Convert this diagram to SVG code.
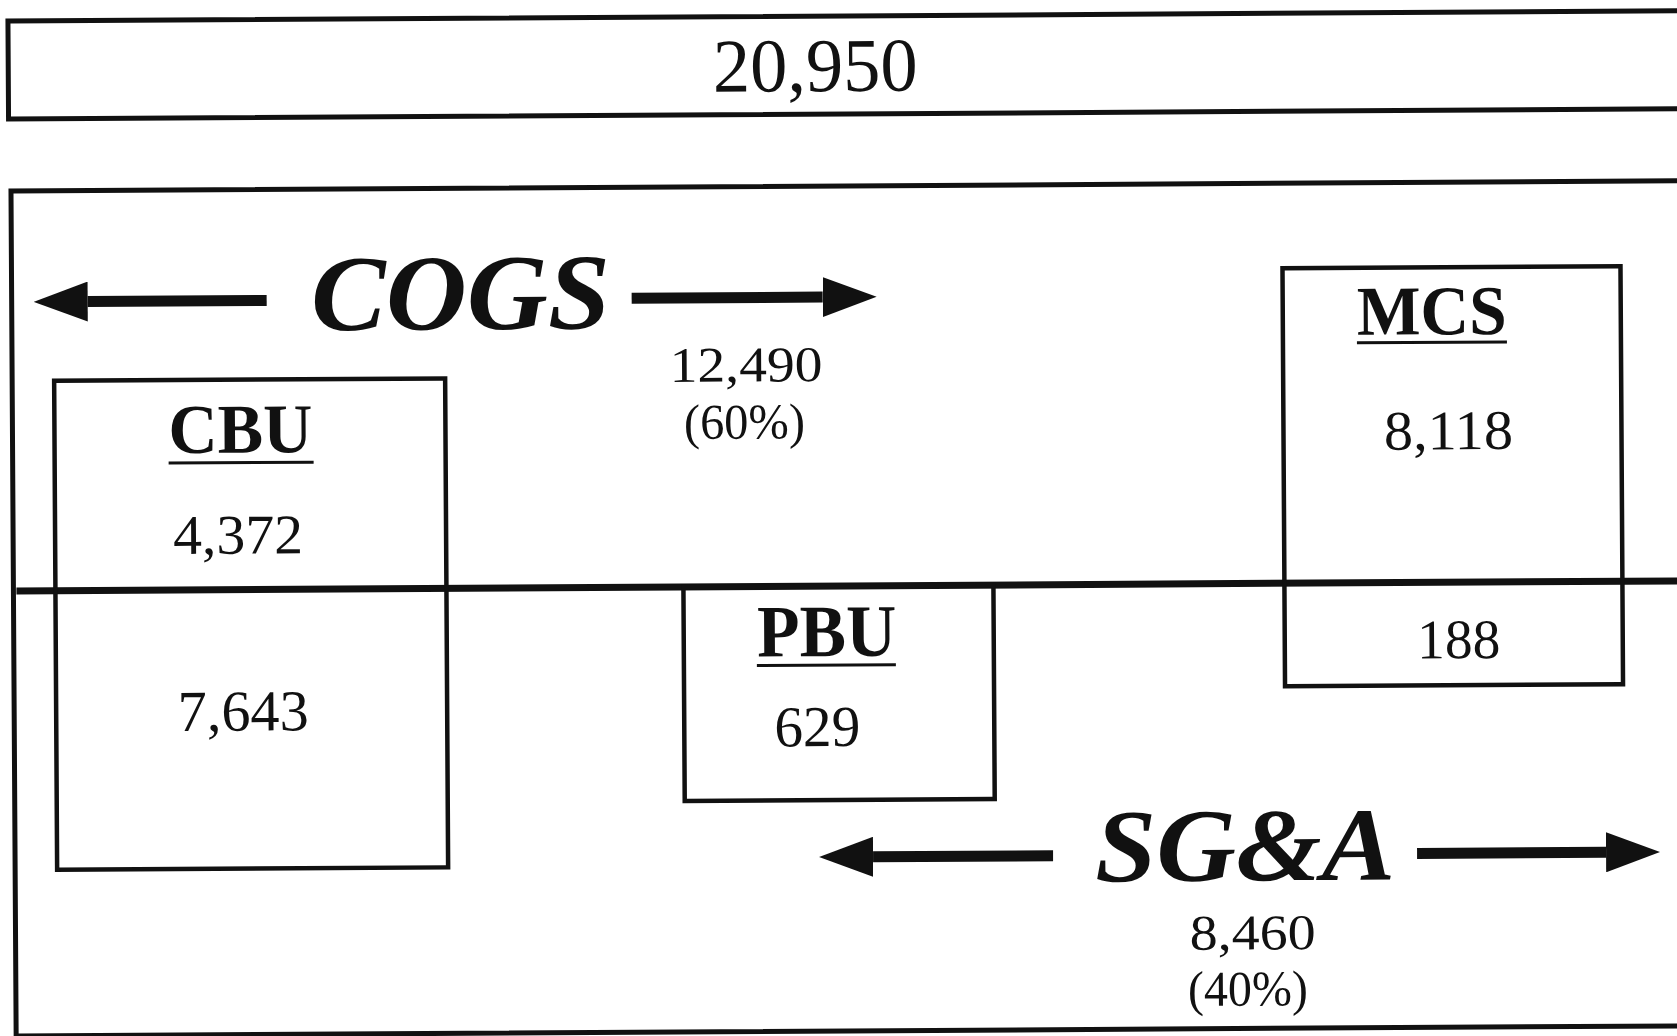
<svg xmlns="http://www.w3.org/2000/svg" width="1677" height="1036" viewBox="0 0 1677 1036">
<style>
.frame{fill:none;stroke:#111;stroke-width:5}
.box{fill:none;stroke:#111;stroke-width:4.5}
.num{font-family:"Liberation Serif","Times New Roman",serif;fill:#111;text-anchor:middle}
.lbl{font-family:"Liberation Serif","Times New Roman",serif;font-weight:bold;fill:#111;text-anchor:middle}
.big{font-family:"Liberation Serif","Times New Roman",serif;font-weight:bold;font-style:italic;fill:#111;text-anchor:middle}
.ul{stroke:#111;stroke-width:3}
.arrow{stroke:#111;stroke-width:11;fill:none;marker-end:url(#head)}
.divider{stroke:#111;stroke-width:7}
</style>
<defs>
<marker id="head" viewBox="0 0 54 40" refX="0" refY="20" markerWidth="54" markerHeight="40" markerUnits="userSpaceOnUse" orient="auto">
<path d="M0,0 L54,20 L0,40 Z" fill="#111"/>
</marker>
</defs>
<rect width="1677" height="1036" fill="#fff"/>
<g transform="rotate(-0.35 838 518)">
<g id="total">
<rect class="frame" x="11" y="16" width="1720" height="98"/>
<text class="num" x="818" y="91" font-size="76" textLength="205" lengthAdjust="spacingAndGlyphs">20,950</text>
</g>
<g id="main-frame">
<rect class="frame" x="13" y="186" width="1720" height="845"/>
</g>
<g id="connectors">
<line class="divider" x1="16" y1="586" x2="1700" y2="586"/>
<line class="arrow" x1="268" y1="297" x2="89" y2="297"/>
<line class="arrow" x1="633" y1="297" x2="824" y2="297"/>
<line class="arrow" x1="1051" y1="857" x2="871" y2="857"/>
<line class="arrow" x1="1415" y1="857" x2="1604" y2="857"/>
</g>
<g id="cogs">
<text class="big" x="462" y="327" font-size="108" textLength="299" lengthAdjust="spacingAndGlyphs">COGS</text>
<text class="num" x="747" y="381" font-size="50" textLength="153" lengthAdjust="spacingAndGlyphs">12,490</text>
<text class="num" x="745" y="438" font-size="50" textLength="121" lengthAdjust="spacingAndGlyphs">(60%)</text>
</g>
<g id="cbu">
<rect class="box" x="55" y="376" width="391" height="489"/>
<text class="lbl" x="241" y="449" font-size="70" textLength="144" lengthAdjust="spacingAndGlyphs">CBU</text>
<line class="ul" x1="169" y1="459" x2="314" y2="459"/>
<text class="num" x="238" y="550" font-size="56" textLength="130" lengthAdjust="spacingAndGlyphs">4,372</text>
<text class="num" x="242" y="727" font-size="58" textLength="131" lengthAdjust="spacingAndGlyphs">7,643</text>
</g>
<g id="pbu">
<rect class="box" x="683" y="586" width="310" height="214"/>
<text class="lbl" x="826" y="656" font-size="74" textLength="139" lengthAdjust="spacingAndGlyphs">PBU</text>
<line class="ul" x1="756" y1="665" x2="895" y2="665"/>
<text class="num" x="816" y="746" font-size="58" textLength="86" lengthAdjust="spacingAndGlyphs">629</text>
</g>
<g id="mcs">
<rect class="box" x="1284" y="271" width="338" height="418"/>
<text class="lbl" x="1433" y="338" font-size="70" textLength="150" lengthAdjust="spacingAndGlyphs">MCS</text>
<line class="ul" x1="1358" y1="346" x2="1508" y2="346"/>
<text class="num" x="1449" y="453" font-size="56" textLength="129" lengthAdjust="spacingAndGlyphs">8,118</text>
<text class="num" x="1458" y="662" font-size="56" textLength="83" lengthAdjust="spacingAndGlyphs">188</text>
</g>
<g id="sga">
<text class="big" x="1243" y="883" font-size="104" textLength="300" lengthAdjust="spacingAndGlyphs">SG&amp;A</text>
<text class="num" x="1250" y="952" font-size="50" textLength="126" lengthAdjust="spacingAndGlyphs">8,460</text>
<text class="num" x="1245" y="1008" font-size="50" textLength="120" lengthAdjust="spacingAndGlyphs">(40%)</text>
</g>
</g>
</svg>
